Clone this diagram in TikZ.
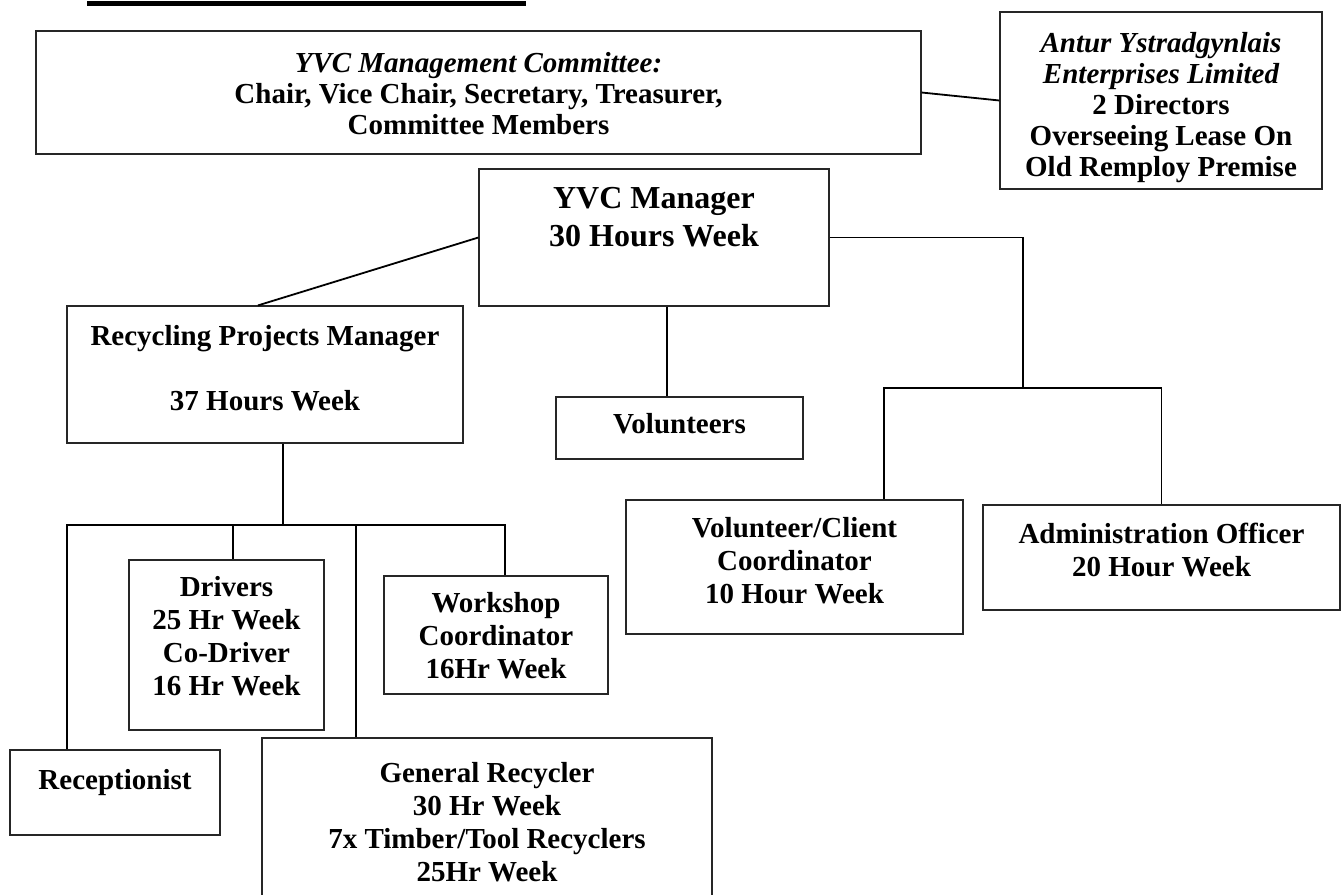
\documentclass[tikz,border=0pt]{standalone}
\usepackage{fontspec}
\setmainfont{Liberation Serif}
\usepackage{tikz}
\usetikzlibrary{positioning}

\tikzset{
	post/.style={draw=black!85, line width=0.6pt, inner sep=0pt},
	txt/.style={align=center, inner sep=0pt, font=\fontsize{14.5}{16.5}\selectfont\bfseries},
	txtbig/.style={txt, font=\fontsize{16}{19}\selectfont\bfseries},
	txttop/.style={txt, font=\fontsize{14.5}{15.5}\selectfont\bfseries},
	link/.style={line width=0.9pt}
}

\begin{document}
\begin{tikzpicture}[x=0.5pt, y=-0.5pt]
		\useasboundingbox (0,0) rectangle (1341,895);
		\clip (0,0) rectangle (1341,895);
		\fill (87,1) rectangle (526,6);
		\node[post, minimum width=442.5pt, minimum height=61.5pt] (com) at (478.5,92.5) {};
		\node[txttop, below=11pt of com.north] (comtxt) {{\itshape YVC Management Committee:}\\Chair, Vice Chair, Secretary, Treasurer,\\Committee Members};
		\node[post, minimum width=161pt, minimum height=88.5pt] (antur) at (1161,100.5) {};
		\node[txttop, below=10.5pt of antur.north] (anturtxt) {{\itshape Antur Ystradgynlais}\\{\itshape Enterprises Limited}\\2 Directors\\Overseeing Lease On\\Old Remploy Premise};
		\node[post, minimum width=175pt, minimum height=68.5pt] (mgr) at (654,237.5) {};
		\node[txtbig, below=9.5pt of mgr.north] (mgrtxt) {YVC Manager\\30 Hours Week};
		\node[post, minimum width=198pt, minimum height=68.5pt] (rpm) at (265,374.5) {};
		\node[txt, below=10pt of rpm.north] (rpmtxt) {Recycling Projects Manager\\[16pt]37 Hours Week};
		\node[post, minimum width=123.5pt, minimum height=31pt] (vol) at (679.5,428) {};
		\node[txt, below=8.5pt of vol.north] (voltxt) {Volunteers};
		\node[post, minimum width=168.5pt, minimum height=67pt] (vcc) at (794.5,567) {};
		\node[txt, below=9pt of vcc.north] (vcctxt) {Volunteer/Client\\Coordinator\\10 Hour Week};
		\node[post, minimum width=178.5pt, minimum height=52.5pt] (adm) at (1161.5,557.5) {};
		\node[txt, below=9pt of adm.north] (admtxt) {Administration Officer\\20 Hour Week};
		\node[post, minimum width=97.5pt, minimum height=85pt] (drv) at (226.5,645) {};
		\node[txt, below=8.5pt of drv.north] (drvtxt) {Drivers\\25 Hr Week\\Co-Driver\\16 Hr Week};
		\node[post, minimum width=112pt, minimum height=59pt] (wks) at (496,635) {};
		\node[txt, below=8.5pt of wks.north] (wkstxt) {Workshop\\Coordinator\\16Hr Week};
		\node[post, minimum width=105pt, minimum height=42.5pt] (rec) at (115,792.5) {};
		\node[txt, below=10pt of rec.north] (rectxt) {Receptionist};
		\node[post, minimum width=225pt, minimum height=96pt] (gen) at (487,834) {};
		\node[txt, below=12.5pt of gen.north] (gentxt) {General Recycler\\30 Hr Week\\7x Timber/Tool Recyclers\\25Hr Week};

		\coordinate (bus2) at (1023,388);
		\coordinate (vccin) at (884,388);
		\coordinate (volin) at (667,388);
		\coordinate (bus1) at (283,525);
		\coordinate (recin) at (67,525);
		\coordinate (drvin) at (233,525);
		\coordinate (genin) at (356,525);
		\coordinate (wksin) at (505,525);

		\draw[link] (com.east) -- (antur.west);
		\draw[link] (mgr.west) -- ([xshift=-3.5pt]rpm.north);
		\draw[link] (volin |- mgr.south) -- (volin |- vol.north);
		\draw[link] (mgr.east) -| (bus2);
		\draw[link] (vccin |- vcc.north) |- (bus2) -| (adm.north);
		\draw[link] (bus1 |- rpm.south) -- (bus1);
		\draw[link] (recin |- rec.north) -- (recin) -- (wksin) -- (wksin |- wks.north);
		\draw[link] (drvin) -- (drvin |- drv.north);
		\draw[link] (genin) -- (genin |- gen.north);
\end{tikzpicture}
\end{document}
